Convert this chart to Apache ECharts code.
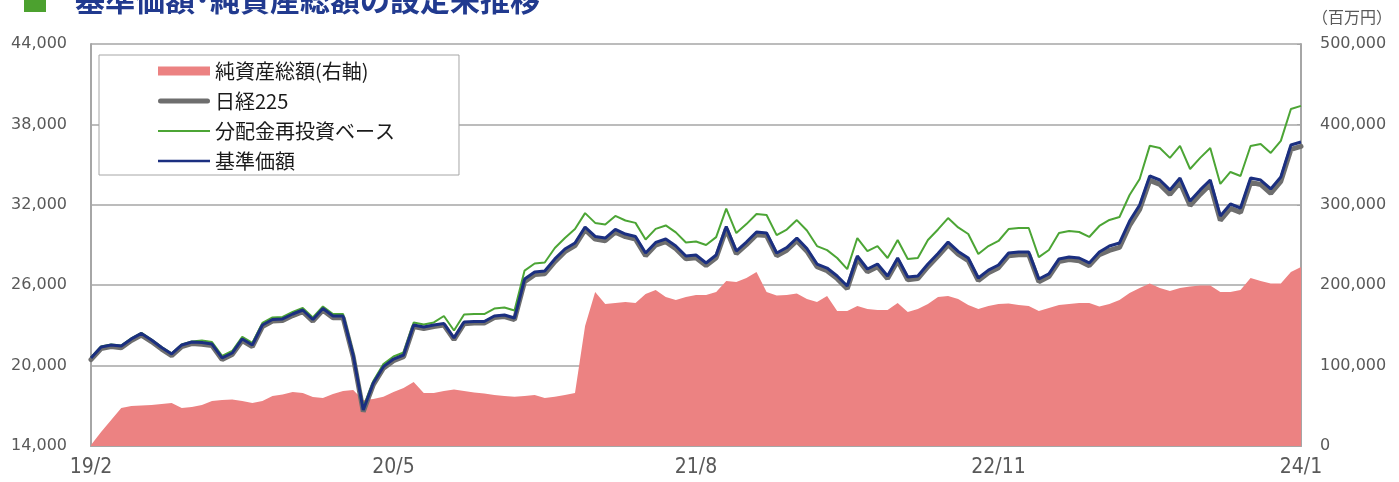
<!DOCTYPE html>
<html><head><meta charset="utf-8">
<script src="https://cdn.jsdelivr.net/npm/echarts/dist/echarts.min.js"></script>
<style>html,body{margin:0;padding:0;background:#fff}#c{width:1399px;height:482px}</style>
</head><body><div id="c"></div>
<script>
// x-axis tick labels and their positions in the category list
const tickLabels = ['19/2','20/5','21/8','22/11','24/1'];
const tickIndex = [0,30,60,90,120];

// 基準価額 (円)
const navValues = [20570,21390,21540,21460,21990,22400,21910,21350,20870,21540,
21760,21720,21610,20570,20940,21990,21540,23030,23440,23480,
23850,24150,23440,24260,23700,23700,20790,16690,18700,19920,
20490,20790,23030,22880,23030,23140,22060,23250,23290,23290,
23700,23780,23550,26460,26990,27060,27960,28700,29150,30340,
29640,29520,30160,29820,29640,28400,29190,29450,28930,28180,
28250,27660,28250,30380,28550,29220,29970,29900,28400,28810,
29520,28740,27580,27280,26690,25940,28180,27210,27580,26690,
28030,26610,26690,27580,28370,29220,28520,28030,26540,27130,
27510,28400,28480,28480,26460,26840,27960,28110,28030,27660,
28480,28930,29150,30790,31990,34150,33850,33110,34000,32280,
33110,33850,31170,32060,31760,34000,33850,33180,34080,36460,
36690];

// 分配金再投資ベース (円)
const reinvestValues = [20610,21430,21580,21500,22030,22440,21950,21390,20910,21580,
21800,21870,21760,20720,21090,22140,21690,23180,23590,23630,
24000,24300,23590,24410,23850,23850,20940,16840,18850,20110,
20680,20980,23220,23070,23220,23700,22620,23810,23850,23850,
24260,24340,24110,27090,27620,27690,28780,29520,30190,31380,
30650,30530,31170,30830,30650,29410,30200,30460,29940,29190,
29260,29000,29590,31720,29890,30560,31310,31240,29740,30150,
30860,30080,28920,28620,28030,27200,29520,28550,28920,28030,
29370,27950,28030,29370,30160,31010,30310,29820,28330,28920,
29300,30190,30270,30270,28100,28630,29900,30050,29970,29600,
30420,30870,31090,32730,33930,36400,36240,35500,36390,34670,
35500,36240,33560,34450,34150,36390,36540,35870,36770,39150,
39380];

// 日経225
const nikkeiValues = [20450,21270,21420,21340,21870,22280,21790,21230,20750,21420,
21640,21600,21490,20450,20820,21870,21420,22910,23320,23360,
23730,24030,23320,24140,23580,23580,20670,16570,18580,19800,
20370,20670,22910,22760,22910,23020,21940,23130,23170,23170,
23580,23660,23430,26260,26790,26860,27760,28500,28950,30140,
29440,29320,29960,29620,29440,28200,28990,29250,28730,27980,
28050,27460,28050,30180,28350,29020,29770,29700,28200,28610,
29320,28540,27380,27080,26490,25740,27980,27010,27380,26490,
27830,26410,26490,27380,28170,29020,28320,27830,26340,26930,
27310,28200,28280,28280,26260,26640,27760,27910,27830,27460,
28280,28600,28820,30460,31660,33820,33520,32780,33670,31950,
32780,33520,30840,31730,31430,33670,33520,32850,33750,36130,
36360];

// 純資産総額 (百万円)
const assetValues = [1200,17400,32300,47300,49800,50400,51000,52200,53500,47300,
48500,51000,56000,57200,57800,56000,53500,56000,62200,64100,
67200,65900,60900,59700,64700,68400,69700,57200,58500,61300,
67200,72100,79600,65900,65900,68400,70300,68400,66500,65300,
63400,62200,61300,62200,63400,59700,61300,63400,65900,149300,
191500,176600,177900,179100,177900,189100,194000,185300,181600,185300,
187800,187800,191500,205200,204000,209000,216400,191500,187200,187800,
189700,182800,179100,186600,167900,167900,174100,170400,169200,169200,
177900,166700,170400,176600,185300,186600,182800,175400,170400,174100,
176600,177200,175400,174100,167900,171600,175400,176600,177900,177900,
173500,176600,181600,190300,196500,202100,196500,192800,196500,198400,
199600,199600,191500,191500,194000,209000,205200,202100,202100,216400,
222600];

// category list: dates from 2019/02 to 2024/01
const categories = [];
const startMs = Date.UTC(2019, 1, 1);
for (let i = 0; i < navValues.length; i++) {
  const d = new Date(startMs + i * (1825 / 120) * 86400000);
  categories.push(d.toISOString().slice(0, 10));
}

const axisGray = '#a6a6a6';
const labelGray = '#595959';
const jp = '"Noto Sans CJK JP", sans-serif';

const chart = echarts.init(document.getElementById('c'));
chart.setOption({
  animation: false,
  textStyle: { fontFamily: jp },
  graphic: [
    { type: 'rect', shape: { x: 24, y: -10, width: 22, height: 22 }, style: { fill: '#4ca12f' } },
    { type: 'text', x: 75, y: -15, style: { text: '基準価額･純資産総額の設定来推移', font: 'bold 30px "Noto Sans CJK JP"', fill: '#213a8f', textVerticalAlign: 'top' } },
    { type: 'text', x: 1392, y: 17, style: { text: '（百万円）', font: '16px "Noto Sans CJK JP"', fill: labelGray, textAlign: 'right', textVerticalAlign: 'middle' } }
  ],
  legend: {
    orient: 'vertical', left: 99, top: 55,
    padding: [6, 64, 4, 59],
    backgroundColor: '#fff', borderColor: axisGray, borderWidth: 1,
    itemWidth: 52, itemHeight: 9, itemGap: 10,
    textStyle: { fontSize: 20, lineHeight: 20, color: '#1a1a1a', fontFamily: jp },
    data: [
      { name: '純資産総額(右軸)', icon: 'rect' },
      { name: '日経225', icon: 'path://M2.5,0 H49.5 A2.5,2.5 0 0 1 49.5,5 H2.5 A2.5,2.5 0 0 1 2.5,0 Z' },
      { name: '分配金再投資ベース', icon: 'path://M0,0 H52 V2 H0 Z' },
      { name: '基準価額', icon: 'path://M0,0 H52 V2.6 H0 Z' }
    ]
  },
  grid: { left: 91, right: 98, top: 44, bottom: 36 },
  xAxis: {
    type: 'category', boundaryGap: false, data: categories,
    axisLine: { lineStyle: { color: axisGray, width: 2 } },
    axisTick: { show: false },
    splitLine: { show: false },
    axisLabel: {
      interval: (i) => tickIndex.includes(i),
      formatter: (v, i) => { const k = tickIndex.indexOf(i); return k >= 0 ? tickLabels[k] : ''; },
      fontSize: 21, color: labelGray, margin: 11,
      fontFamily: '"Liberation Sans Narrow", "DejaVu Sans Condensed", sans-serif'
    }
  },
  yAxis: [
    {
      type: 'value', min: 14000, max: 44000, interval: 6000, position: 'left',
      axisLine: { show: true, lineStyle: { color: axisGray, width: 2 } },
      axisTick: { show: false },
      splitLine: { show: true, lineStyle: { color: axisGray, width: 1.5 } },
      axisLabel: { color: labelGray, fontSize: 16, margin: 24, fontFamily: '"DejaVu Sans", sans-serif',
        formatter: (v) => v.toLocaleString('en-US') }
    },
    {
      type: 'value', min: 0, max: 500000, interval: 100000, position: 'right',
      axisLine: { show: true, lineStyle: { color: axisGray, width: 2 } },
      axisTick: { show: true, inside: true, length: 4, lineStyle: { color: axisGray } },
      splitLine: { show: false },
      axisLabel: { color: labelGray, fontSize: 16, margin: 19, fontFamily: '"DejaVu Sans", sans-serif',
        formatter: (v) => v.toLocaleString('en-US') }
    }
  ],
  series: [
    { name: '純資産総額(右軸)', type: 'line', yAxisIndex: 1, data: assetValues, symbol: 'none',
      lineStyle: { width: 0, color: '#ec8282' }, itemStyle: { color: '#ec8282' },
      areaStyle: { color: '#ec8282', opacity: 1 }, z: 1 },
    { name: '日経225', type: 'line', data: nikkeiValues, symbol: 'none',
      lineStyle: { width: 5, color: '#6e6e6e', cap: 'round' }, itemStyle: { color: '#6e6e6e' }, z: 2 },
    { name: '分配金再投資ベース', type: 'line', data: reinvestValues, symbol: 'none',
      lineStyle: { width: 2, color: '#4ca535' }, itemStyle: { color: '#4ca535' }, z: 3 },
    { name: '基準価額', type: 'line', data: navValues, symbol: 'none',
      lineStyle: { width: 3, color: '#1b2f80' }, itemStyle: { color: '#1b2f80' }, z: 4 }
  ]
});
</script></body></html>
